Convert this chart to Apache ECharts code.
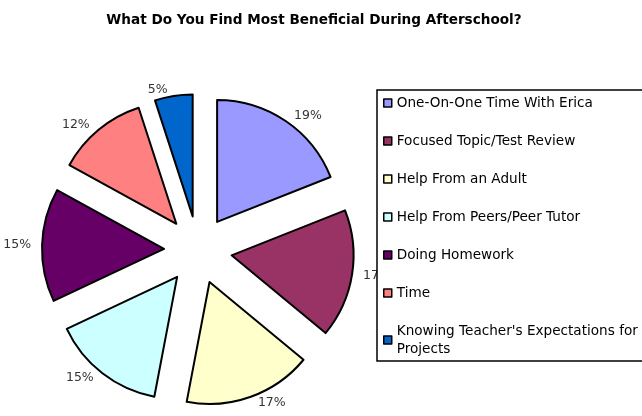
<!DOCTYPE html>
<html>
<head>
<meta charset="utf-8">
<script src="https://cdn.jsdelivr.net/npm/echarts@6/dist/echarts.min.js"></script>
<style>
  html, body { margin: 0; padding: 0; background: #fff; }
  #chart { width: 642px; height: 416px; }
</style>
</head>
<body>
<div id="chart"></div>
<script>
var categories = [
  'One-On-One Time With Erica',
  'Focused Topic/Test Review',
  'Help From an Adult',
  'Help From Peers/Peer Tutor',
  'Doing Homework',
  'Time',
  "Knowing Teacher's Expectations for Projects"
];
var percents = [19, 17, 17, 15, 15, 12, 5];
var colors = ['#9999ff', '#993366', '#ffffcc', '#ccffff', '#660066', '#ff8080', '#0066cc'];

var chart = echarts.init(document.getElementById('chart'));

var data = categories.map(function (name, i) {
  return { name: name, value: percents[i], selected: true };
});

chart.setOption({
  animation: false,
  color: colors,
  title: {
    text: 'What Do You Find Most Beneficial During Afterschool?',
    left: 309,
    textAlign: 'center',
    top: 8,
    textStyle: {
      fontFamily: 'DejaVu Sans',
      fontWeight: 'bold',
      fontSize: 13.6,
      color: '#000'
    }
  },
  legend: {
    orient: 'vertical',
    left: 377,
    top: 90,
    padding: [4, 6, 3, 6],
    itemGap: 20,
    icon: 'rect',
    itemWidth: 8,
    itemHeight: 8,
    backgroundColor: '#fff',
    borderColor: '#000',
    borderWidth: 1.5,
    selectedMode: false,
    itemStyle: { borderColor: '#000', borderWidth: 1.5 },
    formatter: function (name) {
      return name.replace('for Projects', 'for\nProjects');
    },
    textStyle: {
      fontFamily: 'DejaVu Sans',
      fontSize: 13.6,
      color: '#000',
      width: 250,
      lineHeight: 18
    }
  },
  series: [
    {
      type: 'pie',
      center: [198, 250],
      radius: 122,
      startAngle: 90,
      selectedMode: 'multiple',
      selectedOffset: 34,
      avoidLabelOverlap: false,
      itemStyle: { borderColor: '#000', borderWidth: 2 },
      emphasis: { disabled: true },
      label: {
        show: true,
        position: 'outside',
        formatter: '{c}%',
        fontFamily: 'DejaVu Sans',
        fontSize: 12.5,
        color: '#333'
      },
      labelLine: { show: false, length: 6, length2: 0 },
      data: data
    }
  ]
});
</script>
</body>
</html>
